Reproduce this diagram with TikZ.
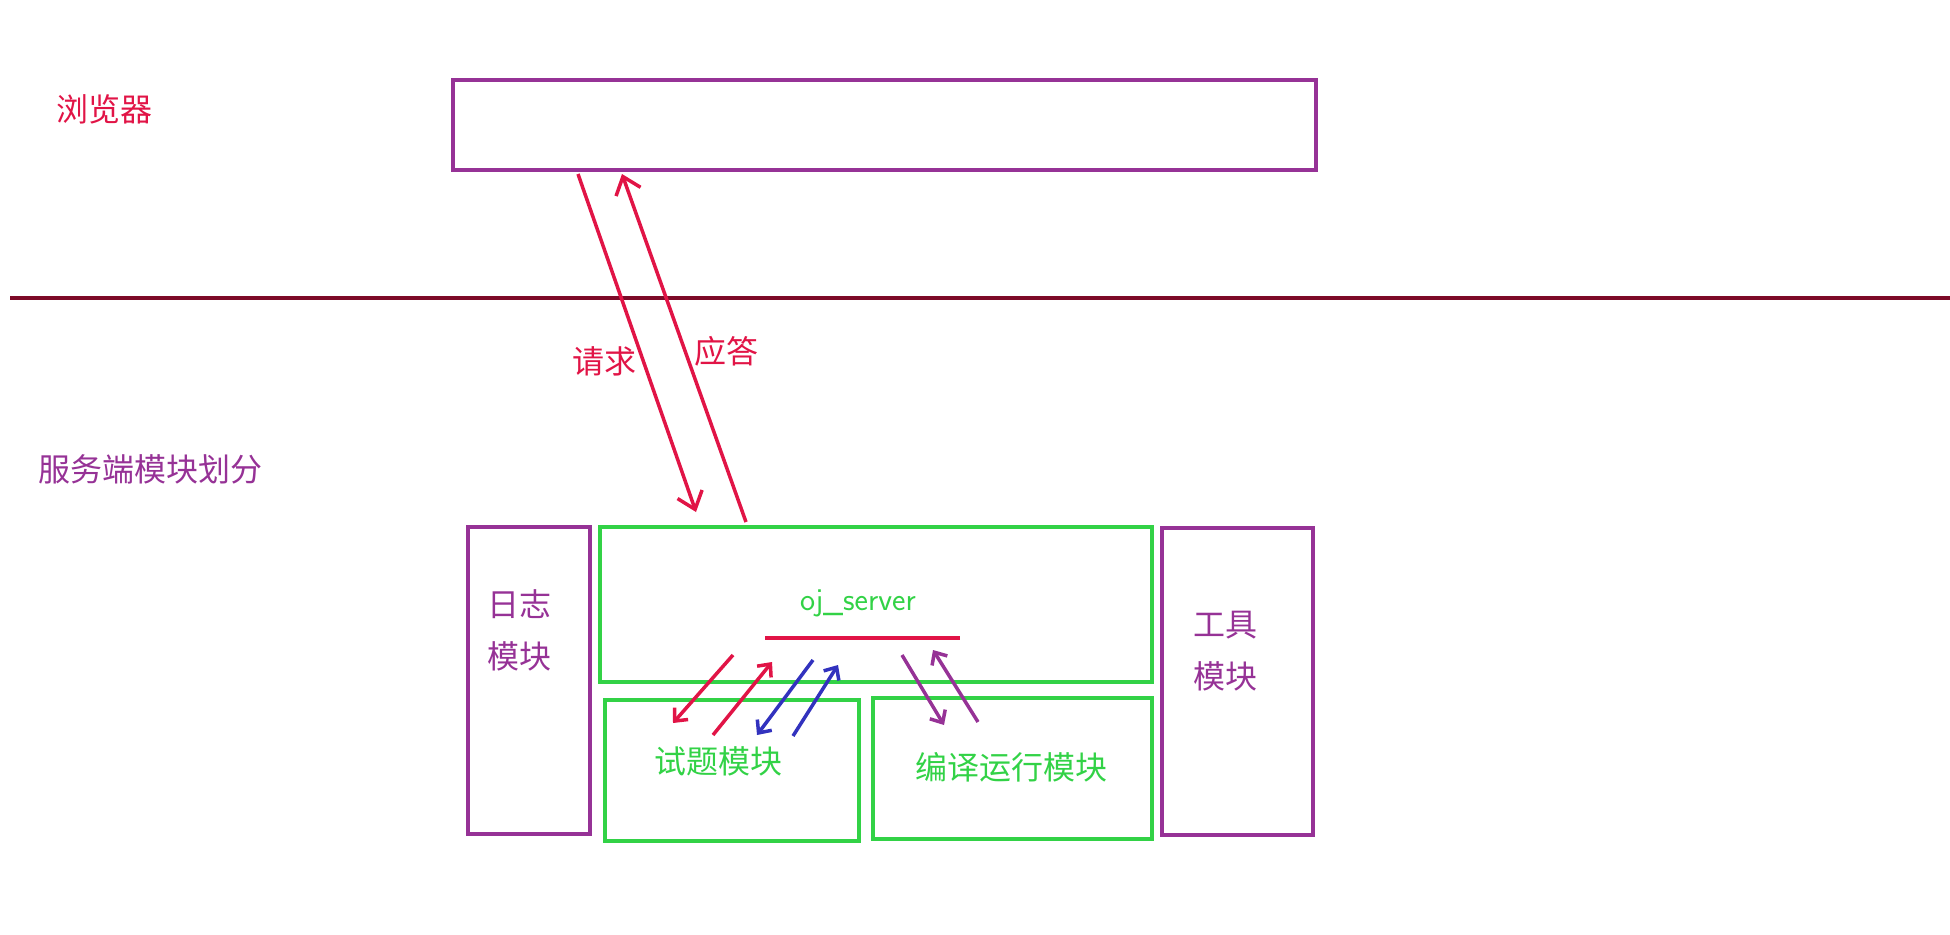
\documentclass[tikz,border=0pt]{standalone}
\usepackage{fontspec}
\setmainfont{Noto Sans CJK SC}
\usetikzlibrary{arrows.meta}
\definecolor{crim}{RGB}{225,20,70}
\definecolor{maroon}{RGB}{125,10,40}
\definecolor{purp}{RGB}{150,50,150}
\definecolor{grn}{RGB}{50,210,70}
\definecolor{blu}{RGB}{50,50,190}
\begin{document}
\begin{tikzpicture}[x=1pt,y=-1pt,
  pbox/.style={draw=purp,line width=3.5pt},
  gbox/.style={draw=grn,line width=3.5pt},
  lbl/.style={font=\fontsize{32}{34}\selectfont},
  arr/.style={line width=3.5pt,-{Straight Barb[length=16pt,width=26pt]}}]
\useasboundingbox (0,0) rectangle (1950,934);
\node[pbox,minimum width=863pt,minimum height=90pt,anchor=north west] (browser) at (451,78) {};
\node[lbl,text=crim] (bl) at (104,109) {浏览器};
\coordinate (h1) at (10,298); \coordinate (h2) at (1950,298);
\draw[maroon,line width=3.5pt] (h1) -- (h2);
\coordinate (rq1) at (578,174); \coordinate (rq2) at (696,512);
\coordinate (rs1) at (746,522); \coordinate (rs2) at (622,174);
\draw[crim,arr] (rq1) -- (rq2);
\draw[crim,arr] (rs1) -- (rs2);
\node[lbl,text=crim] (qq) at (604,361) {请求};
\node[lbl,text=crim] (yd) at (726,351) {应答};
\node[lbl,text=purp] (srv) at (150,469) {服务端模块划分};
\node[pbox,minimum width=122pt,minimum height=307pt,anchor=north west] (log) at (466,525) {};
\node[lbl,text=purp,align=center] (logt) at (519,630) {日志\\[18pt]模块};
\node[gbox,minimum width=552pt,minimum height=155pt,anchor=north west] (oj) at (598,525) {};
\node[font=\fontsize{32}{34}\selectfont\sffamily,text=grn] (ojt) at (858,603) {oj\_server};
\coordinate (u1) at (765,638); \coordinate (u2) at (960,638);
\draw[crim,line width=4pt] (u1) -- (u2);
\node[gbox,minimum width=254pt,minimum height=141pt,anchor=north west] (st) at (603,698) {};
\node[lbl,text=grn] (stt) at (718,761) {试题模块};
\node[gbox,minimum width=279pt,minimum height=141pt,anchor=north west] (by) at (871,696) {};
\node[lbl,text=grn] (byt) at (1011,767) {编译运行模块};
\node[pbox,minimum width=151pt,minimum height=307pt,anchor=north west] (tool) at (1160,526) {};
\node[lbl,text=purp,align=center] (toolt) at (1225,651) {工具\\[18pt]模块};
\tikzset{sarr/.style={line width=3.5pt,-{Straight Barb[length=10pt,width=18pt]}}}
\coordinate (a1) at (733,655); \coordinate (a2) at (673,723);
\coordinate (b1) at (713,735); \coordinate (b2) at (772,662);
\coordinate (c1) at (813,660); \coordinate (c2) at (757,735);
\coordinate (d1) at (793,736); \coordinate (d2) at (838,665);
\coordinate (e1) at (902,655); \coordinate (e2) at (944,725);
\coordinate (f1) at (978,722); \coordinate (f2) at (933,650);
\draw[crim,sarr] (a1) -- (a2);
\draw[crim,sarr] (b1) -- (b2);
\draw[blu,sarr] (c1) -- (c2);
\draw[blu,sarr] (d1) -- (d2);
\draw[purp,sarr] (e1) -- (e2);
\draw[purp,sarr] (f1) -- (f2);
\end{tikzpicture}
\end{document}
